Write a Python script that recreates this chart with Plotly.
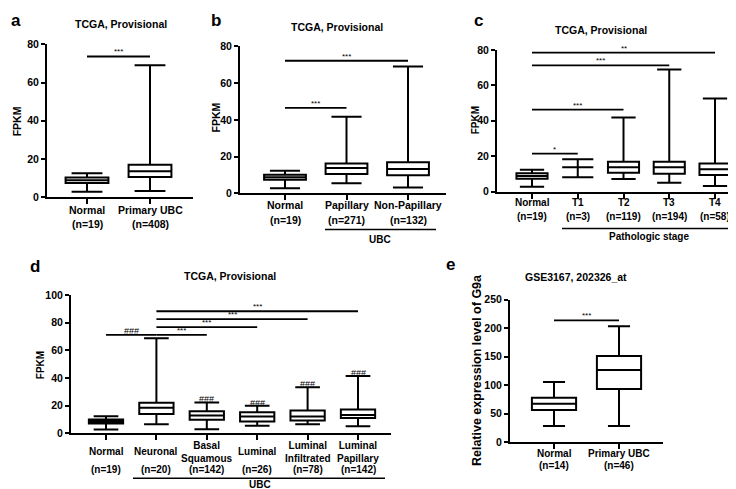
import plotly.graph_objects as go

W, H = 736, 489
FONT = "Arial, Liberation Sans, sans-serif"

# ---------------- data ----------------
# Panel a
a_cats = ["Normal", "Primary UBC"]
a_n = ["(n=19)", "(n=408)"]
a_low = [3.0, 3.3]
a_q1 = [7.5, 10.6]
a_med = [8.9, 13.6]
a_q3 = [10.4, 17.0]
a_high = [12.6, 69.0]
a_sig_from = ["Normal"]
a_sig_to = ["Primary UBC"]
a_sig_y = [73.6]
a_sig_txt = ["***"]

# Panel b
b_cats = ["Normal", "Papillary", "Non-Papillary"]
b_n = ["(n=19)", "(n=271)", "(n=132)"]
b_low = [2.8, 5.5, 3.2]
b_q1 = [7.4, 10.6, 9.9]
b_med = [8.8, 13.8, 13.3]
b_q3 = [10.2, 16.3, 17.0]
b_high = [12.4, 41.7, 69.0]
b_sig_from = ["Normal", "Normal"]
b_sig_to = ["Non-Papillary", "Papillary"]
b_sig_y = [72.1, 46.5]
b_sig_txt = ["***", "***"]

# Panel c
c_cats = ["Normal", "T1", "T2", "T3", "T4"]
c_n = ["(n=19)", "(n=3)", "(n=119)", "(n=194)", "(n=58)"]
c_low = [2.7, 8.1, 7.1, 4.9, 3.1]
c_q1 = [7.3, 13.7, 10.6, 10.1, 9.3]
c_med = [8.8, 13.7, 13.7, 13.7, 12.6]
c_q3 = [10.3, 13.7, 16.8, 16.8, 15.9]
c_high = [12.3, 18.3, 41.9, 69.0, 52.6]
c_sig_from = ["Normal", "Normal", "Normal", "Normal"]
c_sig_to = ["T1", "T2", "T3", "T4"]
c_sig_y = [21.4, 46.3, 71.4, 78.6]
c_sig_txt = ["*", "***", "***", "**"]

# Panel d
d_cats = ["Normal", "Neuronal", "Basal Squamous", "Luminal",
          "Luminal Infiltrated", "Luminal Papillary"]
d_labels = ["Normal", "Neuronal", "Basal<br>Squamous", "Luminal",
            "Luminal<br>Infiltrated", "Luminal<br>Papillary"]
d_n = ["(n=19)", "(n=20)", "(n=142)", "(n=26)", "(n=78)", "(n=142)"]
d_low = [2.8, 6.6, 3.1, 5.6, 6.6, 5.2]
d_q1 = [7.1, 14.1, 9.9, 8.7, 9.4, 11.1]
d_med = [8.7, 18.6, 12.9, 12.2, 12.2, 13.4]
d_q3 = [10.1, 22.1, 16.0, 15.3, 16.5, 17.2]
d_high = [12.5, 68.7, 22.4, 20.0, 33.4, 41.4]
d_sig_from = ["Normal", "Neuronal", "Neuronal", "Neuronal", "Neuronal"]
d_sig_to = ["Neuronal", "Basal Squamous", "Luminal",
            "Luminal Infiltrated", "Luminal Papillary"]
d_sig_y = [71.2, 71.2, 76.8, 82.6, 88.2]
d_sig_txt = ["###", "***", "***", "***", "***"]
d_hash_cats = ["Basal Squamous", "Luminal", "Luminal Infiltrated", "Luminal Papillary"]
d_hash_txt = ["###", "###", "###", "###"]

# Panel e
e_cats = ["Normal", "Primary UBC"]
e_n = ["(n=14)", "(n=46)"]
e_low = [28.5, 28.5]
e_q1 = [56.5, 93.6]
e_med = [67.4, 126.7]
e_q3 = [78.2, 151.3]
e_high = [105.6, 203.8]
e_sig_from = ["Normal"]
e_sig_to = ["Primary UBC"]
e_sig_y = [214.0]
e_sig_txt = ["***"]

# ---------------- layout geometry (pixels) ----------------
panels = [
    dict(letter="a", cats=a_cats, labels=a_cats, n=a_n, low=a_low, q1=a_q1, med=a_med, q3=a_q3,
         high=a_high, sf=a_sig_from, st=a_sig_to, sy=a_sig_y, stx=a_sig_txt,
         x0=39, x1=185, ytop=31, ybot=188, yr=[0, 80], dt=20, cpx=[79, 142],
         lab1=201, lab2=215, lfs=10.5, bw=0.68, ww=0.72,
         title="TCGA, Provisional", tx=113, ty=10, ytitle="FPKM", ytx=9, yty=110, ytfs=10.5,
         lx=1, ly=7),
    dict(letter="b", cats=b_cats, labels=b_cats, n=b_n, low=b_low, q1=b_q1, med=b_med, q3=b_q3,
         high=b_high, sf=b_sig_from, st=b_sig_to, sy=b_sig_y, stx=b_sig_txt,
         x0=232, x1=438, ytop=33, ybot=184, yr=[0, 80], dt=20, cpx=[277, 338, 400],
         lab1=196, lab2=211, lfs=10.5, bw=0.68, ww=0.72,
         title="TCGA, Provisional", tx=329, ty=13, ytitle="FPKM", ytx=208, yty=106, ytfs=10.5,
         lx=201, ly=7),
    dict(letter="c", cats=c_cats, labels=c_cats, n=c_n, low=c_low, q1=c_q1, med=c_med, q3=c_q3,
         high=c_high, sf=c_sig_from, st=c_sig_to, sy=c_sig_y, stx=c_sig_txt,
         x0=489, x1=735, ytop=37, ybot=182, yr=[0, 80], dt=20, cpx=[524, 568, 613, 662, 707],
         lab1=193, lab2=208, lfs=10, bw=0.68, ww=0.78,
         title="TCGA, Provisional", tx=593, ty=16, ytitle="FPKM", ytx=467, yty=109, ytfs=10,
         lx=464, ly=7),
    dict(letter="d", cats=d_cats, labels=d_labels, n=d_n, low=d_low, q1=d_q1, med=d_med, q3=d_q3,
         high=d_high, sf=d_sig_from, st=d_sig_to, sy=d_sig_y, stx=d_sig_txt,
         x0=63, x1=383, ytop=288, ybot=430, yr=[0, 100], dt=20, cpx=[98, 148, 199, 249, 299, 350],
         lab1=449, lab2=467, lfs=10, bw=0.68, ww=0.72,
         title="TCGA, Provisional", tx=222, ty=269, ytitle="FPKM", ytx=32, yty=360, ytfs=10,
         lx=20, ly=259),
    dict(letter="e", cats=e_cats, labels=e_cats, n=e_n, low=e_low, q1=e_q1, med=e_med, q3=e_q3,
         high=e_high, sf=e_sig_from, st=e_sig_to, sy=e_sig_y, stx=e_sig_txt,
         x0=502, x1=655, ytop=293, ybot=439, yr=[0, 250], dt=50, cpx=[546, 611],
         lab1=451, lab2=463, lfs=10, bw=0.68, ww=0.5,
         title="GSE3167, 202326_at", tx=568, ty=270,
         ytitle="Relative expression level of G9a", ytx=469, yty=365, ytfs=12.5,
         lx=436, ly=257),
]


def fx(px):
    return px / W


def fy(py):
    return 1 - py / H


fig = go.Figure()
annotations = []
shapes = []
layout_axes = {}

for k, p in enumerate(panels, start=1):
    sfx = "" if k == 1 else str(k)
    xa, ya = "x" + sfx, "y" + sfx
    ncat = len(p["cats"])
    sp = (p["cpx"][-1] - p["cpx"][0]) / (ncat - 1)
    xr = [(p["x0"] - p["cpx"][0]) / sp, (ncat - 1) + (p["x1"] - p["cpx"][-1]) / sp]

    for i, c in enumerate(p["cats"]):
        ww = p["ww"]
        if p["q1"][i] == p["q3"][i]:
            ww = 1.0
        fig.add_trace(go.Box(
            x=[c], q1=[p["q1"][i]], median=[p["med"][i]], q3=[p["q3"][i]],
            lowerfence=[p["low"][i]], upperfence=[p["high"][i]],
            xaxis=xa, yaxis=ya, width=p["bw"], whiskerwidth=ww,
            fillcolor="white", line=dict(color="black", width=2),
            boxpoints=False, hoverinfo="skip", showlegend=False))

    for f, t, v, txt in zip(p["sf"], p["st"], p["sy"], p["stx"]):
        fig.add_trace(go.Scatter(x=[f, t], y=[v, v], mode="lines", xaxis=xa, yaxis=ya,
                                 line=dict(color="black", width=1.8),
                                 hoverinfo="skip", showlegend=False))
        i0, i1 = p["cats"].index(f), p["cats"].index(t)
        if txt.startswith("#"):
            annotations.append(dict(x=(i0 + i1) / 2, y=v, xref=xa, yref=ya, text=txt,
                                    showarrow=False, yanchor="bottom", yshift=-3,
                                    font=dict(family=FONT, size=9, color="black")))
        else:
            annotations.append(dict(x=(i0 + i1) / 2, y=v, xref=xa, yref=ya, text=txt,
                                    showarrow=False, yanchor="bottom", yshift=-2,
                                    font=dict(family=FONT, size=8, color="black")))

    # category labels
    for i, (lab, nn) in enumerate(zip(p["labels"], p["n"])):
        annotations.append(dict(x=i, y=fy(p["lab1"]), xref=xa, yref="paper", text=lab,
                                showarrow=False, yanchor="middle", xanchor="center",
                                font=dict(family=FONT, size=p["lfs"], color="black", weight="bold")))
        annotations.append(dict(x=i, y=fy(p["lab2"]), xref=xa, yref="paper", text=nn,
                                showarrow=False, yanchor="middle", xanchor="center",
                                font=dict(family=FONT, size=p["lfs"], color="black", weight="bold")))

    # title, y title, letter
    annotations.append(dict(x=fx(p["tx"]), y=fy(p["ty"]), xref="paper", yref="paper",
                            text=p["title"], showarrow=False, xanchor="center", yanchor="middle",
                            font=dict(family=FONT, size=10.5, color="black", weight="bold")))
    annotations.append(dict(x=fx(p["ytx"]), y=fy(p["yty"]), xref="paper", yref="paper",
                            text=p["ytitle"], showarrow=False, textangle=-90,
                            xanchor="center", yanchor="middle",
                            font=dict(family=FONT, size=p["ytfs"], color="black", weight="bold")))
    annotations.append(dict(x=fx(p["lx"]), y=fy(p["ly"]), xref="paper", yref="paper",
                            text=p["letter"], showarrow=False, xanchor="left", yanchor="middle",
                            font=dict(family=FONT, size=17, color="black", weight="bold")))

    axis_common = dict(showline=True, linecolor="black", linewidth=2, ticks="outside",
                       tickcolor="black", tickwidth=2, showgrid=False, zeroline=False,
                       fixedrange=True)
    layout_axes["xaxis" + sfx] = dict(domain=[fx(p["x0"]), fx(p["x1"])], anchor=ya,
                                      type="category", categoryorder="array",
                                      categoryarray=p["cats"], range=xr, ticklen=5,
                                      showticklabels=False, **axis_common)
    tv = list(range(p["yr"][0], p["yr"][1] + 1, p["dt"]))
    layout_axes["yaxis" + sfx] = dict(domain=[fy(p["ybot"]), fy(p["ytop"])], anchor=xa,
                                      range=p["yr"], tickvals=tv, ticklen=4,
                                      tickfont=dict(family=FONT, size=10.5, color="black",
                                                    weight="bold"),
                                      **axis_common)

# group underlines and group labels
groups = [
    ("UBC", 317, 428, 221, 372, 231),
    ("Pathologic stage", 554, 725, 220, 641, 228),
    ("UBC", 125, 377, 476, 252, 482.5),
]
for txt, gx0, gx1, gy, tx, ty in groups:
    shapes.append(dict(type="line", xref="paper", yref="paper", x0=fx(gx0), x1=fx(gx1),
                       y0=fy(gy), y1=fy(gy), line=dict(color="black", width=1.5)))
    annotations.append(dict(x=fx(tx), y=fy(ty), xref="paper", yref="paper", text=txt,
                            showarrow=False, xanchor="center", yanchor="middle",
                            font=dict(family=FONT, size=10, color="black", weight="bold")))

# ### marks above panel d boxes
for c, txt in zip(d_hash_cats, d_hash_txt):
    i = d_cats.index(c)
    annotations.append(dict(x=i, y=d_high[i], xref="x4", yref="y4", text=txt,
                            showarrow=False, yanchor="bottom", yshift=-4,
                            font=dict(family=FONT, size=9, color="black")))

fig.update_layout(width=W, height=H, margin=dict(l=0, r=0, t=0, b=0),
                  paper_bgcolor="white", plot_bgcolor="white", showlegend=False,
                  boxmode="overlay", annotations=annotations, shapes=shapes,
                  font=dict(family=FONT, color="black"), **layout_axes)

fig.write_html("out.html")
